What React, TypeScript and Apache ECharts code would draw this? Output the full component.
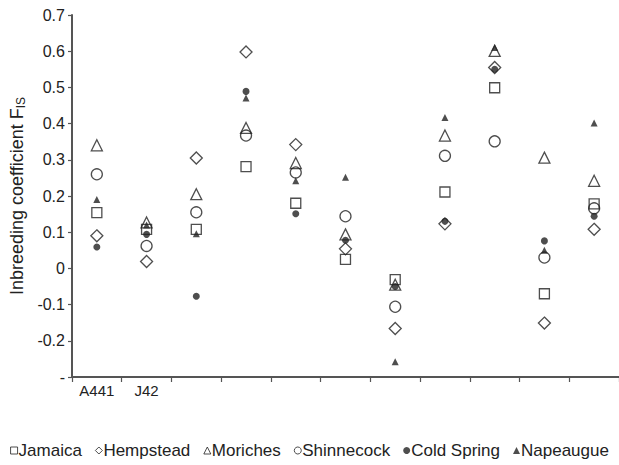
import React, { useEffect, useRef } from "react";
import * as echarts from "echarts";

const categories = ["A441", "J42", "L3", "L4", "L5", "L6", "L7", "L8", "L9", "L10", "L11"];
const categoryLabels = ["A441", "J42", "", "", "", "", "", "", "", "", ""];
const yTicks = [-0.3, -0.2, -0.1, 0, 0.1, 0.2, 0.3, 0.4, 0.5, 0.6, 0.7];

const jamaica = [0.154, 0.108, 0.108, 0.281, 0.18, 0.025, -0.031, 0.211, 0.499, -0.07, 0.178];
const hempstead = [0.09, 0.019, 0.305, 0.598, 0.342, 0.054, -0.166, 0.123, 0.555, -0.151, 0.108];
const moriches = [0.34, 0.127, 0.205, 0.388, 0.291, 0.094, -0.045, 0.367, 0.601, 0.306, 0.242];
const shinnecock = [0.26, 0.062, 0.155, 0.367, 0.265, 0.144, -0.106, 0.311, 0.351, 0.03, 0.166];
const coldSpring = [0.059, 0.094, -0.077, 0.489, 0.151, 0.078, -0.05, 0.13, 0.55, 0.076, 0.144];
const napeaugue = [0.19, 0.12, 0.096, 0.471, 0.242, 0.252, -0.258, 0.417, 0.61, 0.05, 0.402];

const INK = "#222";
const FONT = "Liberation Sans, Arial";

export default function App() {
  const ref = useRef<HTMLDivElement>(null);
  useEffect(() => {
    if (!ref.current) return;
    const chart = echarts.init(ref.current, undefined, { renderer: "svg" });
    const open = (name: string, data: number[], symbol: string, size: number) => ({
      name,
      type: "scatter",
      data,
      symbol,
      symbolSize: size,
      itemStyle: { color: "rgba(255,255,255,0)", borderColor: INK, borderWidth: 1.3 },
    });
    const filled = (name: string, data: number[], symbol: string, size: number) => ({
      name,
      type: "scatter",
      data,
      symbol,
      symbolSize: size,
      itemStyle: { color: INK },
    });
    chart.setOption({
      animation: false,
      grid: { left: 67, top: 15, right: 0, bottom: 88, containLabel: false },
      legend: {
        bottom: 1,
        left: "center",
        itemWidth: 7,
        itemHeight: 7,
        itemGap: 13,
        textStyle: { fontFamily: FONT, fontSize: 17, color: INK, padding: [0, 0, 0, -4] },
        data: [
          { name: "Jamaica", icon: "rect", itemStyle: { borderWidth: 1 } },
          { name: "Hempstead", icon: "diamond", itemStyle: { borderWidth: 1 } },
          { name: "Moriches", icon: "triangle", itemStyle: { borderWidth: 1 } },
          { name: "Shinnecock", icon: "circle", itemStyle: { borderWidth: 1 } },
          { name: "Cold Spring", icon: "circle" },
          { name: "Napeaugue", icon: "triangle" },
        ],
      },
      xAxis: {
        type: "category",
        data: categories,
        boundaryGap: true,
        axisLine: { onZero: false, lineStyle: { color: "#555", width: 2 } },
        axisTick: { show: true, length: 5, lineStyle: { color: "#555", width: 1.2 } },
        axisLabel: {
          formatter: (_v: string, i: number) => categoryLabels[i],
          fontFamily: FONT,
          fontSize: 15,
          color: INK,
          margin: 6,
        },
        splitLine: { show: false },
      },
      yAxis: {
        type: "value",
        min: yTicks[0],
        max: yTicks[yTicks.length - 1],
        interval: 0.1,
        axisLine: { show: true, lineStyle: { color: "#555", width: 2 } },
        axisTick: { show: true, length: 4, lineStyle: { color: "#555", width: 1.2 } },
        axisLabel: {
          formatter: (v: number) => {
            const r = Math.round(v * 10) / 10;
            if (Math.abs(r - yTicks[0]) < 1e-6) return "-";
            if (r === 0) return "0";
            return r.toFixed(1);
          },
          fontFamily: FONT,
          fontSize: 16,
          color: INK,
          margin: 7,
        },
        splitLine: { show: false },
        name: "{a|Inbreeding coefficient F}{b|IS}",
        nameLocation: "middle",
        nameGap: 44,
        nameRotate: 90,
        nameTextStyle: {
          rich: {
            a: { fontFamily: FONT, fontSize: 18, color: INK },
            b: { fontFamily: FONT, fontSize: 12, color: INK, padding: [7, 0, 0, 0] },
          },
        },
      },
      series: [
        open("Jamaica", jamaica, "rect", 10),
        open("Hempstead", hempstead, "diamond", 12),
        open("Moriches", moriches, "triangle", 11),
        open("Shinnecock", shinnecock, "circle", 11),
        filled("Cold Spring", coldSpring, "circle", 7),
        filled("Napeaugue", napeaugue, "triangle", 7),
      ],
    });
    return () => chart.dispose();
  }, []);
  return <div ref={ref} style={{ width: 619, height: 465, position: "absolute", left: 0, top: 0 }} />;
}
